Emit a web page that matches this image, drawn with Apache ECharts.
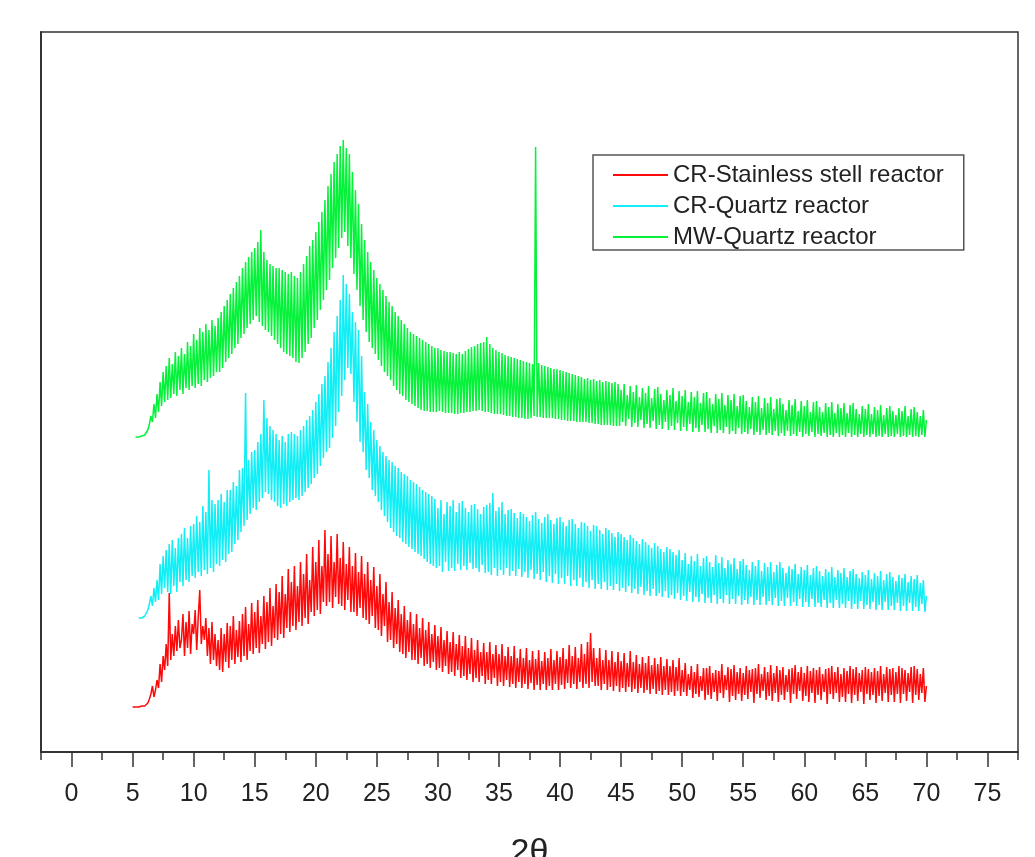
<!DOCTYPE html>
<html>
<head>
<meta charset="utf-8">
<title>XRD</title>
<script src="https://cdn.jsdelivr.net/npm/echarts@6/dist/echarts.min.js"></script>
<style>
    html, body { margin: 0; padding: 0; background: #fff; }
    #main { width: 1035px; height: 857px; }
</style>
</head>
<body>
<div id="main"></div>
<script>
// 2θ grid: first sample at 5°, one sample every 0.125°, last at 70°
var thetaStart = 5;
var thetaStep = 0.125;

// tick labels of the 2θ axis (minor ticks every 2.5)
var tickLabels = ['-2.5', '0', '2.5', '5', '7.5', '10', '12.5', '15', '17.5', '20', '22.5', '25',
    '27.5', '30', '32.5', '35', '37.5', '40', '42.5', '45', '47.5', '50', '52.5', '55', '57.5',
    '60', '62.5', '65', '67.5', '70', '72.5', '75', '77.5'];

var seriesNames = ['CR-Stainless stell reactor', 'CR-Quartz reactor', 'MW-Quartz reactor'];

// intensities (a.u., patterns stacked with offsets), one row = one degree
var crStainless = [
    45, 45, 45, 46, 45, 45, 46, 45,
    46, 47, 49, 53, 58, 66, 55, 62,
    72, 64, 88, 70, 96, 82, 108, 86,
    159, 92, 118, 96, 126, 101, 132, 104,
    112, 138, 96, 130, 104, 141, 98, 128,
    118, 142, 102, 135, 162, 108, 126, 112,
    134, 96, 124, 88, 130, 92, 118, 86,
    112, 82, 124, 80, 118, 90, 129, 84,
    126, 92, 136, 88, 122, 95, 131, 90,
    138, 96, 145, 92, 128, 101, 149, 98,
    140, 104, 152, 99, 136, 108, 156, 103,
    150, 110, 164, 106, 146, 114, 168, 112,
    160, 118, 176, 114, 158, 124, 183, 120,
    170, 126, 186, 122, 166, 130, 190, 126,
    178, 134, 198, 128, 172, 140, 205, 136,
    190, 142, 212, 138, 186, 150, 222, 146,
    198, 150, 216, 144, 190, 155, 218, 148,
    194, 146, 210, 142, 188, 152, 205, 140,
    186, 140, 199, 136, 180, 144, 196, 134,
    178, 132, 190, 128, 172, 136, 185, 124,
    166, 122, 178, 116, 158, 126, 170, 110,
    150, 112, 160, 104, 144, 108, 152, 100,
    138, 98, 146, 94, 132, 100, 140, 92,
    128, 92, 138, 88, 124, 94, 134, 86,
    122, 88, 130, 84, 118, 90, 127, 82,
    116, 84, 125, 80, 112, 86, 121, 78,
    110, 80, 120, 76, 108, 82, 117, 74,
    106, 76, 116, 72, 104, 78, 114, 70,
    102, 74, 112, 70, 100, 76, 109, 68,
    100, 72, 110, 68, 98, 74, 107, 66,
    98, 70, 108, 66, 96, 72, 105, 65,
    96, 68, 106, 64, 94, 70, 103, 64,
    94, 68, 104, 63, 92, 69, 101, 62,
    93, 67, 102, 62, 91, 68, 100, 62,
    94, 66, 103, 62, 92, 68, 101, 62,
    95, 67, 104, 63, 93, 69, 107, 64,
    96, 68, 105, 63, 94, 70, 108, 64,
    98, 68, 110, 64, 119, 70, 104, 66,
    94, 66, 104, 62, 92, 68, 102, 62,
    92, 65, 101, 61, 90, 66, 100, 60,
    91, 64, 99, 60, 89, 65, 101, 60,
    90, 63, 97, 59, 88, 64, 95, 59,
    89, 62, 96, 58, 87, 63, 94, 58,
    88, 61, 95, 57, 86, 62, 93, 57,
    86, 60, 92, 56, 85, 61, 94, 56,
    82, 60, 89, 56, 78, 62, 86, 54,
    80, 58, 88, 55, 76, 61, 84, 52,
    84, 57, 86, 53, 79, 60, 82, 51,
    81, 59, 88, 54, 77, 62, 85, 50,
    83, 56, 87, 52, 80, 58, 84, 51,
    79, 57, 86, 53, 82, 60, 83, 49,
    84, 58, 88, 54, 78, 61, 85, 52,
    80, 56, 87, 51, 79, 59, 86, 50,
    82, 57, 85, 52, 77, 60, 83, 49,
    84, 58, 87, 53, 80, 61, 85, 51,
    79, 56, 86, 50, 81, 59, 84, 49,
    82, 57, 85, 52, 78, 60, 83, 48,
    84, 58, 86, 53, 80, 59, 85, 50,
    78, 55, 84, 50, 81, 58, 86, 49,
    83, 57, 85, 51, 79, 60, 82, 48,
    85, 58, 83, 52, 80, 57, 84, 49,
    81, 56, 86, 51, 78, 59, 85, 50,
    83, 57, 84, 50, 80, 58, 86, 49,
    84, 58, 82, 51, 79, 60, 85, 49,
    86, 57, 83, 52, 78, 59, 84, 50,
    66
];

var crQuartz = [
    null, null, null, null, 134, 134, 134, 135,
    136, 138, 142, 148, 156, 146, 164, 150,
    172, 152, 188, 158, 196, 164, 202, 160,
    208, 158, 212, 166, 204, 160, 214, 170,
    218, 166, 224, 172, 214, 170, 226, 176,
    228, 174, 236, 180, 230, 176, 246, 182,
    240, 178, 282, 184, 252, 180, 248, 188,
    252, 186, 258, 192, 250, 190, 262, 198,
    262, 200, 270, 208, 266, 212, 282, 220,
    284, 226, 359, 232, 292, 238, 300, 244,
    302, 242, 310, 250, 318, 254, 352, 260,
    334, 258, 326, 252, 322, 250, 318, 246,
    312, 244, 316, 248, 310, 246, 318, 250,
    320, 252, 318, 254, 316, 252, 322, 256,
    326, 260, 332, 264, 336, 268, 342, 274,
    350, 278, 358, 286, 368, 294, 376, 300,
    390, 304, 404, 314, 420, 326, 436, 340,
    452, 356, 477, 372, 468, 384, 458, 378,
    440, 350, 430, 330, 422, 310, 396, 300,
    360, 282, 348, 274, 330, 262, 322, 256,
    312, 250, 306, 242, 300, 236, 296, 230,
    292, 224, 290, 220, 286, 216, 284, 214,
    280, 210, 278, 208, 276, 205, 272, 203,
    270, 200, 268, 198, 265, 196, 262, 193,
    260, 190, 258, 188, 256, 186, 253, 184,
    244, 186, 252, 180, 238, 190, 250, 181,
    246, 184, 252, 181, 240, 188, 249, 182,
    251, 186, 244, 182, 240, 189, 247, 183,
    248, 184, 243, 180, 238, 187, 245, 179,
    247, 180, 249, 177, 259, 184, 241, 176,
    245, 182, 250, 177, 238, 184, 242, 176,
    243, 181, 239, 176, 234, 183, 240, 175,
    238, 180, 235, 174, 231, 182, 237, 173,
    240, 178, 233, 172, 229, 180, 235, 170,
    238, 176, 232, 169, 228, 178, 234, 168,
    235, 174, 230, 168, 226, 176, 232, 166,
    233, 172, 228, 166, 224, 174, 230, 165,
    229, 170, 226, 164, 221, 172, 227, 163,
    226, 168, 222, 163, 218, 170, 224, 162,
    222, 166, 219, 162, 215, 168, 220, 161,
    218, 164, 215, 160, 212, 166, 217, 159,
    214, 163, 211, 158, 208, 165, 213, 157,
    210, 161, 207, 156, 204, 163, 209, 156,
    206, 159, 203, 155, 200, 161, 205, 154,
    203, 157, 200, 153, 197, 159, 202, 152,
    192, 156, 199, 151, 188, 160, 196, 150,
    191, 155, 198, 150, 186, 158, 194, 149,
    196, 154, 190, 149, 185, 157, 197, 148,
    189, 153, 195, 149, 184, 157, 192, 148,
    188, 153, 194, 148, 183, 156, 191, 147,
    193, 152, 187, 148, 182, 155, 190, 147,
    186, 152, 192, 147, 181, 155, 189, 147,
    185, 151, 190, 147, 180, 154, 187, 146,
    190, 151, 184, 146, 179, 154, 186, 146,
    183, 150, 188, 146, 178, 153, 185, 145,
    182, 150, 187, 145, 177, 153, 184, 145,
    186, 149, 181, 145, 176, 152, 183, 144,
    180, 149, 185, 144, 175, 152, 182, 144,
    179, 148, 184, 144, 175, 151, 181, 143,
    183, 148, 178, 143, 174, 151, 180, 143,
    177, 147, 182, 143, 173, 150, 179, 142,
    176, 147, 181, 142, 172, 150, 178, 142,
    180, 146, 175, 142, 171, 149, 177, 141,
    174, 146, 178, 141, 170, 149, 176, 141,
    173, 145, 177, 141, 169, 148, 172, 140,
    156
];

var mwQuartz = [
    null, null, 315, 315, 315, 315, 316, 316,
    317, 319, 322, 328, 336, 330, 348, 334,
    358, 340, 370, 346, 380, 350, 386, 352,
    394, 354, 388, 358, 400, 356, 396, 362,
    404, 358, 398, 364, 410, 362, 406, 366,
    418, 364, 412, 368, 424, 366, 420, 372,
    428, 370, 422, 374, 432, 376, 426, 380,
    434, 380, 440, 384, 446, 390, 452, 394,
    458, 398, 464, 404, 470, 408, 476, 414,
    484, 418, 490, 424, 495, 428, 500, 432,
    504, 436, 510, 430, 522, 426, 500, 422,
    492, 420, 488, 416, 486, 412, 484, 408,
    484, 404, 482, 400, 480, 398, 478, 396,
    480, 394, 476, 390, 474, 389, 480, 394,
    488, 400, 496, 408, 506, 414, 512, 424,
    520, 432, 530, 442, 540, 452, 552, 462,
    566, 472, 578, 484, 590, 494, 598, 504,
    606, 514, 612, 520, 604, 506, 598, 494,
    580, 478, 562, 462, 548, 446, 528, 432,
    512, 420, 500, 410, 490, 404, 482, 398,
    474, 392, 468, 386, 462, 380, 456, 376,
    450, 372, 446, 366, 440, 362, 436, 358,
    432, 356, 428, 352, 424, 350, 420, 348,
    418, 346, 416, 344, 414, 342, 412, 341,
    410, 341, 408, 340, 406, 340, 404, 340,
    404, 341, 402, 340, 401, 339, 400, 339,
    400, 339, 399, 338, 398, 338, 400, 339,
    398, 339, 401, 340, 403, 340, 405, 341,
    406, 341, 408, 342, 409, 341, 410, 340,
    415, 340, 408, 339, 404, 338, 402, 338,
    400, 338, 399, 337, 397, 336, 396, 336,
    395, 335, 394, 335, 393, 334, 392, 334,
    391, 333, 390, 333, 389, 334, 388, 336,
    605, 335, 389, 335, 387, 334, 386, 334,
    385, 334, 384, 334, 383, 333, 383, 333,
    382, 332, 381, 332, 380, 331, 379, 331,
    378, 331, 377, 330, 376, 330, 375, 330,
    373, 330, 374, 329, 372, 329, 373, 328,
    371, 328, 372, 327, 370, 327, 371, 327,
    370, 327, 369, 326, 370, 326, 368, 326,
    362, 330, 368, 326, 357, 333, 366, 325,
    360, 329, 367, 325, 355, 332, 364, 324,
    359, 328, 366, 324, 354, 331, 363, 323,
    365, 327, 358, 323, 352, 330, 362, 322,
    357, 326, 364, 322, 351, 329, 361, 321,
    356, 325, 362, 321, 350, 328, 360, 320,
    355, 324, 361, 320, 349, 327, 359, 320,
    360, 323, 354, 319, 348, 326, 358, 319,
    353, 322, 359, 319, 347, 325, 357, 318,
    352, 321, 358, 318, 346, 324, 356, 318,
    357, 320, 351, 318, 345, 323, 355, 317,
    350, 320, 356, 317, 344, 322, 354, 317,
    349, 319, 355, 317, 343, 321, 353, 316,
    354, 319, 348, 316, 342, 321, 352, 316,
    347, 318, 353, 316, 341, 320, 351, 315,
    346, 318, 352, 316, 340, 320, 350, 315,
    351, 318, 345, 316, 340, 319, 349, 315,
    345, 317, 350, 315, 339, 319, 348, 315,
    344, 317, 349, 315, 339, 319, 347, 315,
    349, 317, 343, 315, 338, 318, 346, 315,
    343, 317, 348, 315, 338, 318, 345, 315,
    342, 316, 347, 315, 337, 318, 344, 315,
    346, 316, 341, 315, 337, 318, 344, 315,
    341, 316, 346, 315, 336, 317, 343, 315,
    345, 316, 340, 315, 336, 317, 342, 315,
    332
];

var seriesColors = ['#ff0a0a', '#12eef5', '#06f23a'];

// [2θ, intensity] pairs, skipping the empty samples
function toPoints(arr) {
    var pts = [];
    for (var i = 0; i < arr.length; i++) {
        if (arr[i] !== null) {
            pts.push([thetaStart + i * thetaStep, arr[i]]);
        }
    }
    return pts;
}

// labelled (long) ticks at 0, 5, 10 ...
var majorTick = function (index) {
    return index % 2 === 1;
};

var myChart = echarts.init(document.getElementById('main'));

var allData = [crStainless, crQuartz, mwQuartz];
var series = [];
for (var k = 0; k < allData.length; k++) {
    series.push({
        name: seriesNames[k],
        type: 'line',
        xAxisIndex: 0,
        symbol: 'none',
        showSymbol: false,
        color: seriesColors[k],
        lineStyle: {width: 1.5, color: seriesColors[k]},
        data: toPoints(allData[k])
    });
}

var option = {
    animation: false,
    backgroundColor: '#fff',
    grid: {
        left: 41,
        right: 17,
        top: 32,
        bottom: 105,
        containLabel: false,
        outerBoundsMode: 'none',
        show: true,
        borderColor: '#333',
        borderWidth: 1.5,
        backgroundColor: 'transparent'
    },
    legend: {
        orient: 'vertical',
        left: 593,
        top: 155,
        padding: [8, 20, 1, 20],
        itemGap: 7,
        itemWidth: 55,
        itemHeight: 2,
        icon: 'rect',
        borderColor: '#555',
        borderWidth: 1.5,
        backgroundColor: '#fff',
        textStyle: {
            fontSize: 24,
            lineHeight: 24,
            color: '#222',
            fontFamily: 'Liberation Sans, Arial, sans-serif'
        },
        data: seriesNames
    },
    xAxis: [
        {
            type: 'value',
            min: -2.5,
            max: 77.5,
            interval: 2.5,
            position: 'bottom',
            name: '2θ',
            nameLocation: 'middle',
            nameGap: 84,
            nameTextStyle: {
                fontSize: 34,
                color: '#222',
                fontFamily: 'Liberation Sans, Arial, sans-serif'
            },
            axisLine: {show: true, onZero: false, lineStyle: {color: '#333', width: 2}},
            axisTick: {show: true, length: 8, lineStyle: {color: '#333', width: 1.5}},
            axisLabel: {show: false},
            splitLine: {show: false}
        },
        {
            type: 'category',
            data: tickLabels,
            boundaryGap: false,
            position: 'bottom',
            axisLine: {show: false, onZero: false},
            axisTick: {show: true, interval: majorTick, length: 15, lineStyle: {color: '#333', width: 1.5}},
            axisLabel: {
                show: true,
                interval: majorTick,
                margin: 30,
                fontSize: 25,
                color: '#222',
                fontFamily: 'Liberation Sans, Arial, sans-serif'
            },
            splitLine: {show: false}
        }
    ],
    yAxis: {
        type: 'value',
        min: 0,
        max: 720,
        axisLine: {show: true, onZero: false, lineStyle: {color: '#333', width: 2}},
        axisTick: {show: false},
        axisLabel: {show: false},
        splitLine: {show: false}
    },
    series: series
};

myChart.setOption(option);
</script>
</body>
</html>
